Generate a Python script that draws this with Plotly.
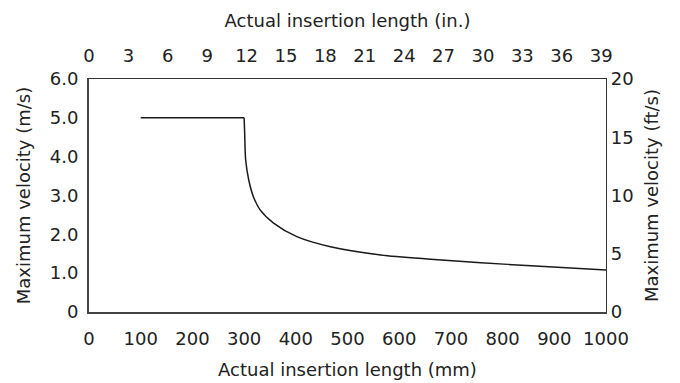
import plotly.graph_objects as go

# data
plateau_mm = [100, 300]
plateau_ms = [5.0, 5.0]
length_mm = [300, 301, 303, 309, 318, 331, 357, 402, 467, 564, 661, 758, 855, 1000]
velocity_ms = [5.0, 4.65, 3.92, 3.40, 2.97, 2.63, 2.29, 1.94, 1.68, 1.47, 1.36, 1.27, 1.19, 1.08]

x_ticks_mm = [0, 100, 200, 300, 400, 500, 600, 700, 800, 900, 1000]
x_ticks_in = [0, 3, 6, 9, 12, 15, 18, 21, 24, 27, 30, 33, 36, 39]
y_ticks_ms = [0, 1, 2, 3, 4, 5, 6]
y_tick_text_ms = ["0", "1.0", "2.0", "3.0", "4.0", "5.0", "6.0"]
y_ticks_fts = [0, 5, 10, 15, 20]

MM_PER_IN = 25.4
FT_PER_M = 3.28084

FONT = "DejaVu Sans"
TXT = "#222222"
LINE = dict(color="#1a1a1a", width=1.5)

fig = go.Figure()
fig.add_trace(go.Scatter(
    x=plateau_mm, y=plateau_ms, mode="lines", line=LINE,
    xaxis="x", yaxis="y", showlegend=False, hoverinfo="skip"))
fig.add_trace(go.Scatter(
    x=length_mm, y=velocity_ms, mode="lines", line=dict(LINE, shape="spline", smoothing=0.8),
    xaxis="x", yaxis="y", showlegend=False, hoverinfo="skip"))
# secondary-unit trace (invisible) so the top and right axes are drawn
fig.add_trace(go.Scatter(
    x=[v / MM_PER_IN for v in length_mm], y=[v * FT_PER_M for v in velocity_ms],
    mode="lines", line=dict(color="rgba(0,0,0,0)", width=0),
    xaxis="x2", yaxis="y2", showlegend=False, hoverinfo="skip"))

axis_font = dict(family=FONT, size=18, color=TXT)

# the page body adds an 8px offset, so the figure is 8px smaller than the window
fig.update_layout(
    width=672, height=375,
    margin=dict(l=81, r=74, t=71, b=71),
    paper_bgcolor="white", plot_bgcolor="white",
    font=dict(family=FONT, size=18, color=TXT),
    xaxis=dict(
        range=[0, 1000], tickvals=x_ticks_mm, showgrid=False, zeroline=False,
        showline=True, linecolor="#444444", linewidth=2, ticks="", automargin=False,
        tickfont=axis_font, ticklabelstandoff=9,
        title=dict(text="Actual insertion length (mm)", font=axis_font, standoff=16),
    ),
    xaxis2=dict(
        range=[0, 1000 / MM_PER_IN], tickvals=x_ticks_in, overlaying="x", side="top",
        showgrid=False, zeroline=False, showline=True, linecolor="#333333", linewidth=1.2,
        ticks="", automargin=False, tickfont=axis_font, ticklabelstandoff=9,
        title=dict(text="Actual insertion length (in.)", font=axis_font, standoff=12),
    ),
    yaxis=dict(
        range=[0, 6], tickvals=y_ticks_ms, ticktext=y_tick_text_ms, showgrid=False,
        zeroline=False, showline=True, linecolor="#444444", linewidth=2, ticks="",
        automargin=False, tickfont=axis_font, ticklabelstandoff=5,
        title=dict(text="Maximum velocity (m/s)", font=axis_font, standoff=14),
    ),
    yaxis2=dict(
        range=[0, 20], tickvals=y_ticks_fts, overlaying="y", side="right",
        showgrid=False, zeroline=False, showline=True, linecolor="#333333", linewidth=1.2,
        ticks="", automargin=False, tickfont=axis_font, ticklabelstandoff=0,
        title=dict(text="Maximum velocity (ft/s)", font=axis_font, standoff=12),
    ),
)

fig.write_html("out.html")
